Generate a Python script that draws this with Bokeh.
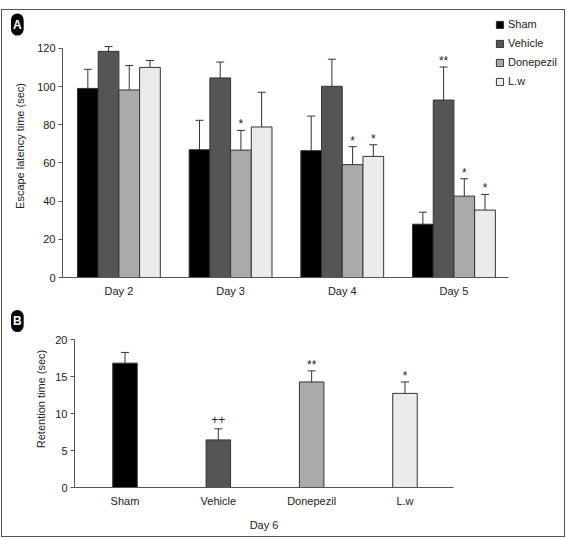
from bokeh.plotting import figure
from bokeh.layouts import column, row
from bokeh.models import Range1d, FixedTicker, Legend, LegendItem, ColumnDataSource, Title
from bokeh.embed import file_html
from bokeh.resources import INLINE
from bokeh.core.properties import value

# ---------------- data ----------------
days = ["Day 2", "Day 3", "Day 4", "Day 5"]
groups = ["Sham", "Vehicle", "Donepezil", "L.w"]

sham_mean = [99.0, 66.9, 66.4, 27.9]
sham_sem = [10.0, 15.4, 18.1, 6.3]
vehicle_mean = [118.4, 104.5, 100.1, 92.9]
vehicle_sem = [2.5, 8.3, 14.2, 17.3]
donepezil_mean = [98.2, 66.7, 59.1, 42.6]
donepezil_sem = [12.8, 10.3, 9.4, 9.1]
lw_mean = [110.0, 78.8, 63.4, 35.3]
lw_sem = [3.6, 18.2, 6.1, 8.2]

sham_mark = ["", "", "", ""]
vehicle_mark = ["", "", "", "**"]
donepezil_mark = ["", "*", "*", "*"]
lw_mark = ["", "", "*", "*"]

retention_mean = [16.85, 6.45, 14.3, 12.75]
retention_sem = [1.45, 1.5, 1.5, 1.55]
retention_mark = ["", "++", "**", "*"]

colors = ["#000000", "#555555", "#aaaaaa", "#ebebeb"]
FONT = "Liberation Sans"
TXT = "#222222"
EDGE = "#333333"

means = [sham_mean, vehicle_mean, donepezil_mean, lw_mean]
sems = [sham_sem, vehicle_sem, donepezil_sem, lw_sem]
marks = [sham_mark, vehicle_mark, donepezil_mark, lw_mark]


def mark_offset(m):
    return -9 if m.startswith("+") else -6


def style_axes(p):
    p.xgrid.grid_line_color = None
    p.ygrid.grid_line_color = None
    p.outline_line_color = None
    for ax in (p.xaxis[0], p.yaxis[0]):
        ax.axis_line_color = "#555555"
        ax.major_tick_line_color = "#555555"
        ax.minor_tick_line_color = None
        ax.major_label_text_font = FONT
        ax.major_label_text_font_size = "11px"
        ax.major_label_text_color = TXT
        ax.axis_label_text_font = FONT
        ax.axis_label_text_font_size = "11px"
        ax.axis_label_text_font_style = "normal"
        ax.axis_label_text_color = TXT
    p.xaxis.major_tick_out = 0
    p.xaxis.major_tick_in = 0
    p.yaxis.major_tick_out = 4
    p.yaxis.major_tick_in = 0


def badge(letter, offset, standoff):
    return Title(text=letter, align="left", offset=offset, standoff=standoff,
                 text_font=FONT, text_font_size="12px", text_font_style="bold",
                 text_color="white", background_fill_color="black",
                 border_radius=9, padding=(2, 4))


# ---------------- panel A ----------------
pA = figure(width=562, height=296, output_backend="svg", toolbar_location=None,
            x_range=Range1d(-0.505, 3.981), y_range=Range1d(0, 137.7),
            min_border_left=60, min_border_right=1, min_border_top=4, min_border_bottom=29,
            title=badge("A", -51.5, -42))
style_axes(pA)
pA.yaxis.ticker = FixedTicker(ticks=[0, 20, 40, 60, 80, 100, 120])
pA.yaxis.bounds = (0, 120)
pA.yaxis.axis_label = "Escape latency time (sec)"
pA.yaxis.major_label_standoff = 3
pA.yaxis.axis_label_standoff = 8
pA.xaxis.ticker = FixedTicker(ticks=[0, 1, 2, 3])
pA.xaxis.bounds = (-0.505, 3.49)
pA.xaxis.major_label_overrides = {i: d for i, d in enumerate(days)}
pA.xaxis.major_label_standoff = 7

w = 0.1854
items = []
for gi, g in enumerate(groups):
    xs = [i + (gi - 1.5) * w for i in range(len(days))]
    tops = [m + s for m, s in zip(means[gi], sems[gi])]
    offs = [mark_offset(m) for m in marks[gi]]
    src = ColumnDataSource(dict(x=xs, top=means[gi], et=tops, mark=marks[gi], off=offs))
    r = pA.vbar(x="x", top="top", bottom=0, width=w, source=src,
                fill_color=colors[gi], line_color=EDGE, line_width=1)
    pA.segment(x0="x", y0="top", x1="x", y1="et", source=src, line_color=EDGE, line_width=1)
    pA.scatter(x="x", y="et", marker="dash", size=8, source=src, line_color=EDGE, line_width=1)
    pA.text(x="x", y="et", text="mark", source=src, text_font=value(FONT), text_font_size="12px",
            text_align="center", text_baseline="alphabetic", y_offset="off", text_color=TXT)
    items.append(LegendItem(label=g, renderers=[r]))

leg = Legend(items=items, location=(433, 190), glyph_width=9, glyph_height=9,
             label_height=9, spacing=7, padding=0, margin=0, label_standoff=4,
             label_text_font=FONT, label_text_font_size="11px", label_text_color=TXT,
             border_line_color=None, background_fill_alpha=0)
pA.add_layout(leg, "center")

# ---------------- panel B ----------------
pB = figure(width=562, height=230, output_backend="svg", toolbar_location=None,
            x_range=Range1d(-0.541, 3.52), y_range=Range1d(0, 23.98),
            min_border_left=72, min_border_right=111, min_border_top=4, min_border_bottom=49,
            title=badge("B", -63.5, -43))
style_axes(pB)
pB.yaxis.ticker = FixedTicker(ticks=[0, 5, 10, 15, 20])
pB.yaxis.bounds = (0, 20)
pB.yaxis.axis_label = "Retention time (sec)"
pB.yaxis.major_label_standoff = 3
pB.yaxis.axis_label_standoff = 5
pB.xaxis.ticker = FixedTicker(ticks=[0, 1, 2, 3])
pB.xaxis.major_label_overrides = {i: g for i, g in enumerate(groups)}
pB.xaxis.major_label_standoff = 7
pB.xaxis.axis_label = "Day 6"
pB.xaxis.axis_label_standoff = 9

xb = list(range(len(groups)))
tb = [m + s for m, s in zip(retention_mean, retention_sem)]
offb = [mark_offset(m) for m in retention_mark]
srcB = ColumnDataSource(dict(x=xb, top=retention_mean, et=tb, mark=retention_mark,
                             color=colors, off=offb))
pB.vbar(x="x", top="top", bottom=0, width=0.2625, source=srcB,
        fill_color="color", line_color=EDGE, line_width=1)
pB.segment(x0="x", y0="top", x1="x", y1="et", source=srcB, line_color=EDGE, line_width=1)
pB.scatter(x="x", y="et", marker="dash", size=8, source=srcB, line_color=EDGE, line_width=1)
pB.text(x="x", y="et", text="mark", source=srcB, text_font=value(FONT), text_font_size="12px",
        text_align="center", text_baseline="alphabetic", y_offset="off", text_color=TXT)

layout = column(row(pA), row(pB), spacing=0, margin=(9, 0, 0, 1),
                styles={"border": "1px solid #555555"})

open("out.html", "w").write(file_html(layout, INLINE))
